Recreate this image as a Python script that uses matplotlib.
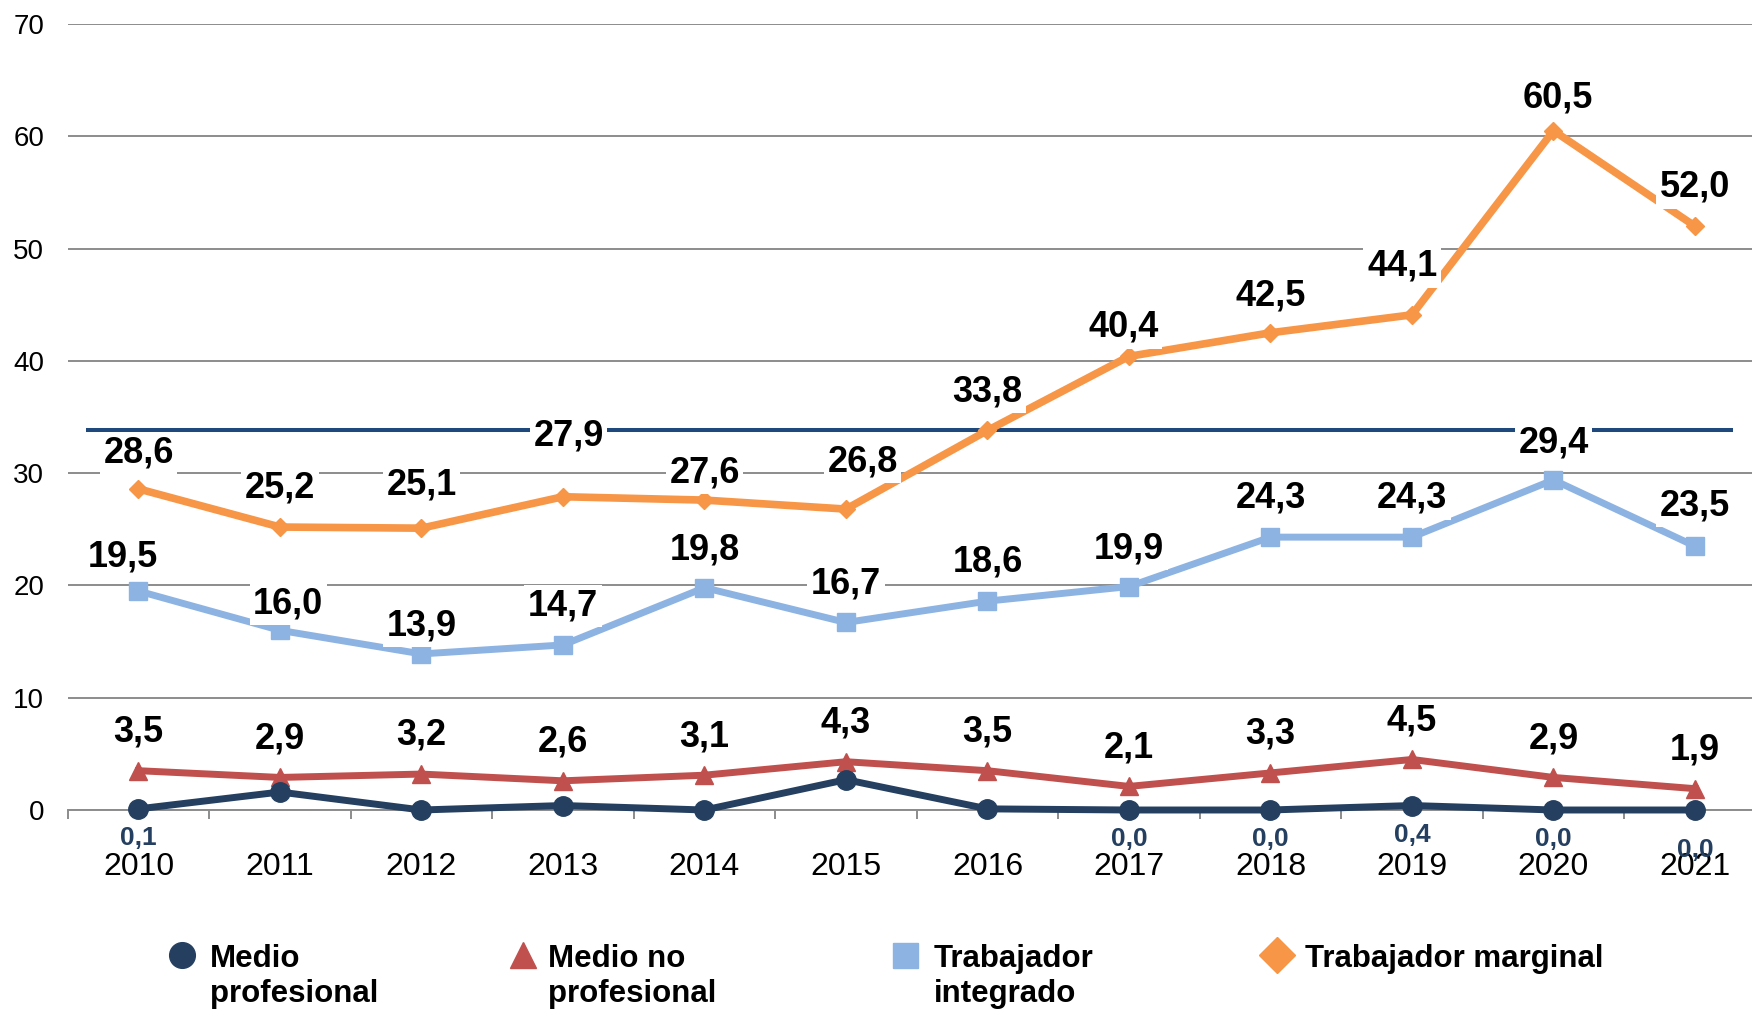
import numpy as np
import matplotlib
matplotlib.use("Agg")
import matplotlib.pyplot as plt
from matplotlib.lines import Line2D

plt.rcParams['font.family'] = ['Liberation Sans', 'DejaVu Sans']

# data
years = ['2010', '2011', '2012', '2013', '2014', '2015',
         '2016', '2017', '2018', '2019', '2020', '2021']
medio_prof = [0.1, 1.6, 0.0, 0.4, 0.0, 2.7, 0.1, 0.0, 0.0, 0.4, 0.0, 0.0]
medio_no_prof = [3.5, 2.9, 3.2, 2.6, 3.1, 4.3, 3.5, 2.1, 3.3, 4.5, 2.9, 1.9]
trab_integrado = [19.5, 16.0, 13.9, 14.7, 19.8, 16.7, 18.6, 19.9, 24.3, 24.3, 29.4, 23.5]
trab_marginal = [28.6, 25.2, 25.1, 27.9, 27.6, 26.8, 33.8, 40.4, 42.5, 44.1, 60.5, 52.0]
prof_labelled = [0, 7, 8, 9, 10, 11]   # only these navy values carry a label
ref_level = 33.8

# colours
c_prof = '#243F60'
c_noprof = '#C0504D'
c_integ = '#8DB3E2'
c_marg = '#F79646'
c_grid = '#8C8C8C'

# label nudges (points): dx, dy above the point baseline
marg_dx = [0, 0, 0, 4, 0, 12, 0, -4, 0, -7, 3, 0]
marg_dy = [19, 21, 24, 37, 13, 27, 21, 14, 20, 28, 17, 21]
integ_dx = [-11, 6, 0, 0, 0, 0, 0, 0, 0, 0, 0, 0]
integ_dy = [18, 12, 13, 21, 20, 21, 21, 20, 21, 21, 20, 22]
prof_dy = [-26, -26, -26, -26, -26, -26, -26, -26, -26, -26, -26, -34]


def fmt(v):
    return f"{v:.1f}".replace('.', ',')


fig = plt.figure(figsize=(17.52, 10.09), dpi=100)
ax = fig.add_axes([67.7 / 1752, 199 / 1009, 1698 / 1752, 786 / 1009])

x = np.arange(len(years))
ax.set_xlim(-0.5, 11.5)
ax.set_ylim(0, 70)

# grid and axes
ax.set_yticks(range(0, 80, 10))
ax.yaxis.grid(True, color=c_grid, lw=1.4)
ax.set_axisbelow(True)
for s in ['top', 'right', 'left']:
    ax.spines[s].set_visible(False)
ax.spines['bottom'].set_color(c_grid)
ax.spines['bottom'].set_linewidth(1.4)
ax.tick_params(axis='y', length=0, pad=17, labelsize=20)
ax.set_xticks(x)
ax.set_xticklabels(years)
ax.tick_params(axis='x', which='major', length=0, pad=30, labelsize=23)
ax.set_xticks(np.arange(-0.5, 12, 1), minor=True)
ax.tick_params(axis='x', which='minor', length=6.7, width=1.4, color=c_grid)

# reference line
ax.hlines(ref_level, -0.37, 11.27, color='#1F497D', lw=2.9, zorder=2)

# series
ax.plot(x, medio_prof, color=c_prof, lw=5, marker='o', ms=14, zorder=6, clip_on=False)
ax.plot(x, medio_no_prof, color=c_noprof, lw=5, marker='^', ms=13, zorder=5)
ax.plot(x, trab_integrado, color=c_integ, lw=5, marker='s', ms=13, zorder=4)
ax.plot(x, trab_marginal, color=c_marg, lw=5.5, marker='D', ms=9, zorder=3)

box = dict(boxstyle='square,pad=0.1', fc='white', ec='none')
lab = dict(textcoords='offset points', ha='center', va='baseline',
           fontsize=26, fontweight='bold', color='black', bbox=box, zorder=8)

for i, v in enumerate(trab_marginal):
    ax.annotate(fmt(v), (x[i], v), xytext=(marg_dx[i], marg_dy[i]), **lab)
for i, v in enumerate(trab_integrado):
    ax.annotate(fmt(v), (x[i], v), xytext=(integ_dx[i], integ_dy[i]), **lab)
for i, v in enumerate(medio_no_prof):
    ax.annotate(fmt(v), (x[i], v), xytext=(0, 21), **lab)
for i in prof_labelled:
    ax.annotate(fmt(medio_prof[i]), (x[i], medio_prof[i]), xytext=(0, prof_dy[i]),
                textcoords='offset points', ha='center', va='baseline',
                fontsize=19, fontweight='bold', color=c_prof, zorder=9,
                annotation_clip=False)

# legend drawn by hand, as in the original layout
leg_names = [['Medio', 'profesional'], ['Medio no', 'profesional'],
             ['Trabajador', 'integrado'], ['Trabajador marginal']]
leg_markers = ['o', '^', 's', 'D']
leg_sizes = [18.5, 19, 18, 18]
leg_colors = [c_prof, c_noprof, c_integ, c_marg]
leg_mx = [182, 523, 905, 1277]
leg_tx = [210, 548, 934, 1305]
for name, m, ms, col, mx, tx in zip(leg_names, leg_markers, leg_sizes,
                                    leg_colors, leg_mx, leg_tx):
    fig.add_artist(Line2D([mx / 1752], [1 - 955 / 1009], transform=fig.transFigure,
                          marker=m, ms=ms, color=col, ls='none'))
    for k, line in enumerate(name):
        fig.text(tx / 1752, 1 - (967 + 35 * k) / 1009, line, fontsize=22.5,
                 fontweight='bold', va='baseline', ha='left')

fig.savefig('out.png', dpi=100)
